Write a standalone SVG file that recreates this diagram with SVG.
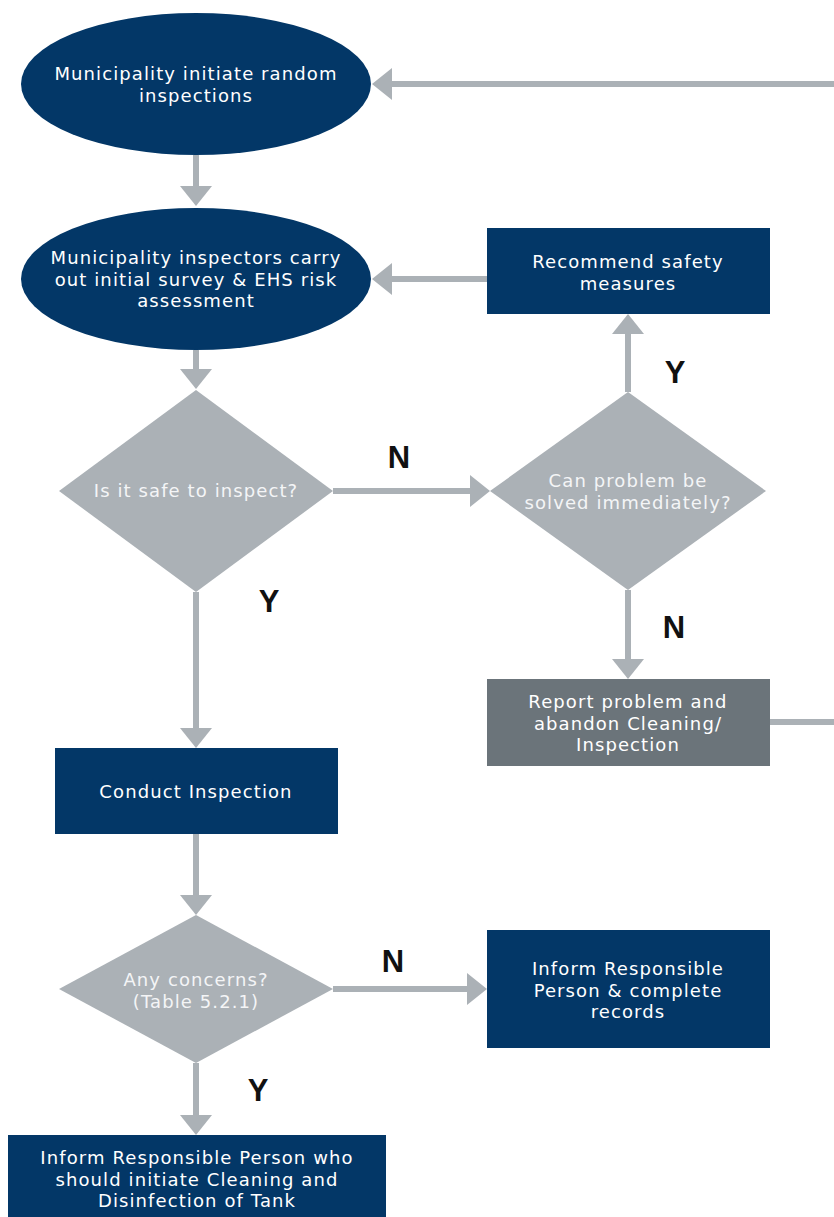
<svg xmlns="http://www.w3.org/2000/svg" width="834" height="1217" viewBox="0 0 834 1217">
<defs>
<style>
.dark{fill:#033767}
.grey{fill:#6b747a}
.dia{fill:#abb1b6}
.t{font-family:"DejaVu Sans","Open Sans",sans-serif;font-size:18px;letter-spacing:1.1px;fill:#ffffff;text-anchor:middle}
.td{font-family:"DejaVu Sans","Open Sans",sans-serif;font-size:18px;letter-spacing:1.1px;fill:#f4f5f6;text-anchor:middle}
.lbl{font-family:"Liberation Sans",Arial,sans-serif;font-size:31px;font-weight:bold;fill:#111111;text-anchor:middle;dominant-baseline:central}
.c{stroke:#abb1b6;stroke-width:6;fill:none}
.ah{fill:#abb1b6}
</style>
</defs>
<rect width="834" height="1217" fill="#ffffff"/>
<g id="connectors">
<path class="c" d="M834 84 H392"/><polygon class="ah" points="372,84 392,68 392,100"/>
<path class="c" d="M196 155 V187"/><polygon class="ah" points="196,206 180,186 212,186"/>
<path class="c" d="M487 279 H392"/><polygon class="ah" points="372,279 392,263 392,295"/>
<path class="c" d="M196 350 V370"/><polygon class="ah" points="196,389 180,369 212,369"/>
<path class="c" d="M333 491 H470"/><polygon class="ah" points="490,491 470,475 470,507"/>
<path class="c" d="M628 392 V334"/><polygon class="ah" points="628,314 612,334 644,334"/>
<path class="c" d="M628 590 V660"/><polygon class="ah" points="628,679 612,659 644,659"/>
<path class="c" d="M770 722 H834"/>
<path class="c" d="M196 592 V729"/><polygon class="ah" points="196,748 180,728 212,728"/>
<path class="c" d="M196 834 V896"/><polygon class="ah" points="196,915 180,895 212,895"/>
<path class="c" d="M333 989 H468"/><polygon class="ah" points="487,989 467,973 467,1005"/>
<path class="c" d="M196 1063 V1116"/><polygon class="ah" points="196,1135 180,1115 212,1115"/>
<text class="lbl" x="399" y="457">N</text>
<text class="lbl" x="675" y="372">Y</text>
<text class="lbl" x="674" y="627">N</text>
<text class="lbl" x="269" y="601">Y</text>
<text class="lbl" x="393" y="961">N</text>
<text class="lbl" x="258" y="1090">Y</text>
</g>
<g id="n1">
<ellipse class="dark" cx="196" cy="84" rx="175" ry="71"/>
<text class="t"><tspan x="196" y="80">Municipality initiate random</tspan><tspan x="196" y="102">inspections</tspan></text>
</g>
<g id="n2">
<ellipse class="dark" cx="196" cy="279" rx="175" ry="71"/>
<text class="t"><tspan x="196" y="264">Municipality inspectors carry</tspan><tspan x="196" y="285.5">out initial survey &amp; EHS risk</tspan><tspan x="196" y="307">assessment</tspan></text>
</g>
<g id="n3">
<rect class="dark" x="487" y="228" width="283" height="86"/>
<text class="t"><tspan x="628" y="268">Recommend safety</tspan><tspan x="628" y="290">measures</tspan></text>
</g>
<g id="n4">
<polygon class="dia" points="196,390 333,491 196,592 59,491"/>
<text class="td" x="196" y="497">Is it safe to inspect?</text>
</g>
<g id="n5">
<polygon class="dia" points="628,392 766,491 628,590 490,491"/>
<text class="td"><tspan x="628" y="487">Can problem be</tspan><tspan x="628" y="509">solved immediately?</tspan></text>
</g>
<g id="n6">
<rect class="grey" x="487" y="679" width="283" height="87"/>
<text class="t"><tspan x="628" y="708">Report problem and</tspan><tspan x="628" y="729.5">abandon Cleaning/</tspan><tspan x="628" y="751">Inspection</tspan></text>
</g>
<g id="n7">
<rect class="dark" x="55" y="748" width="283" height="86"/>
<text class="t" x="196" y="798">Conduct Inspection</text>
</g>
<g id="n8">
<polygon class="dia" points="196,915 333,989 196,1063 59,989"/>
<text class="td"><tspan x="196" y="986">Any concerns?</tspan><tspan x="196" y="1008">(Table 5.2.1)</tspan></text>
</g>
<g id="n9">
<rect class="dark" x="487" y="930" width="283" height="118"/>
<text class="t"><tspan x="628" y="975">Inform Responsible</tspan><tspan x="628" y="996.5">Person &amp; complete</tspan><tspan x="628" y="1018">records</tspan></text>
</g>
<g id="n10">
<rect class="dark" x="8" y="1135" width="378" height="82"/>
<text class="t"><tspan x="197" y="1164">Inform Responsible Person who</tspan><tspan x="197" y="1185.5">should initiate Cleaning and</tspan><tspan x="197" y="1207">Disinfection of Tank</tspan></text>
</g>
</svg>
